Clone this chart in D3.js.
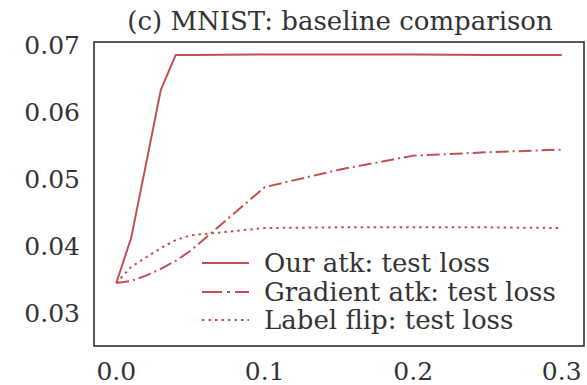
<!DOCTYPE html>
<html lang="en">
<head>
<meta charset="utf-8">
<title>MNIST baseline comparison</title>
<script src="https://d3js.org/d3.v7.min.js"></script>
<style>
  body { margin: 0; background: #fff; }
  text { font-family: "DejaVu Serif", serif; fill: #333; }
</style>
</head>
<body>
<script>
// fraction of poisoned points
var xs = [0, 0.01, 0.02, 0.03, 0.04, 0.05, 0.1, 0.15, 0.2, 0.25, 0.3];
// test loss per method
var ourAtk   = [0.0345, 0.0412, 0.0522, 0.0633, 0.0685, 0.0685, 0.0686, 0.0686, 0.0686, 0.0685, 0.0685];
var gradAtk  = [0.0345, 0.0348, 0.0356, 0.0366, 0.0378, 0.0393, 0.0488, 0.0514, 0.0535, 0.0540, 0.0544];
var labelFlip = [0.0345, 0.0369, 0.0383, 0.0397, 0.0409, 0.0416, 0.0427, 0.0428, 0.0428, 0.0428, 0.0427];
var seriesNames = ["Our atk: test loss", "Gradient atk: test loss", "Label flip: test loss"];
var xTicks = [0, 0.1, 0.2, 0.3];
var yTicks = [0.03, 0.04, 0.05, 0.06, 0.07];

var w = 587, h = 385;
var mLeft = 94, mRight = 584, mTop = 42, mBottom = 346;
var red = "#c44e52";

var svg = d3.select("body").append("svg").attr("width", w).attr("height", h);

var x = d3.scaleLinear().domain([-0.015, 0.315]).range([mLeft, mRight]);
var y = d3.scaleLinear().domain([0.0251, 0.07045]).range([mBottom, mTop]);

// title
svg.append("text")
  .attr("x", (mLeft + mRight) / 2 + 1).attr("y", 30)
  .attr("text-anchor", "middle")
  .style("font-size", "26px")
  .text("(c) MNIST: baseline comparison");

// y tick labels
svg.selectAll(".ytick").data(yTicks).enter().append("text")
  .attr("x", 80).attr("y", function(d) { return y(d); })
  .attr("dy", "0.36em")
  .attr("text-anchor", "end")
  .style("font-size", "25px")
  .text(function(d) { return d3.format(".2f")(d); });

// x tick labels
svg.selectAll(".xtick").data(xTicks).enter().append("text")
  .attr("x", function(d) { return x(d); }).attr("y", 380)
  .attr("text-anchor", "middle")
  .style("font-size", "25px")
  .text(function(d) { return d3.format(".1f")(d); });

var styles = [
  { vals: ourAtk, dash: null },
  { vals: gradAtk, dash: "13,4,2,4" },
  { vals: labelFlip, dash: "2.5,4" }
];

var line = d3.line()
  .x(function(d) { return x(d[0]); })
  .y(function(d) { return y(d[1]); });

styles.forEach(function(s) {
  svg.append("path")
    .datum(xs.map(function(v, i) { return [v, s.vals[i]]; }))
    .attr("d", line)
    .attr("fill", "none")
    .attr("stroke", red)
    .attr("stroke-width", 2)
    .attr("stroke-dasharray", s.dash);
});

// legend
var legY = [263, 292, 320];
styles.forEach(function(s, i) {
  svg.append("line")
    .attr("x1", 202).attr("x2", 249)
    .attr("y1", legY[i]).attr("y2", legY[i])
    .attr("stroke", red).attr("stroke-width", 2.2)
    .attr("stroke-dasharray", i == 1 ? "20,5,3,5" : s.dash);
  svg.append("text")
    .attr("x", 264).attr("y", legY[i])
    .attr("dy", "0.36em")
    .style("font-size", "26px")
    .text(seriesNames[i]);
});

// frame
svg.append("rect")
  .attr("x", mLeft).attr("y", mTop)
  .attr("width", mRight - mLeft).attr("height", mBottom - mTop)
  .attr("fill", "none")
  .attr("stroke", "#222")
  .attr("stroke-width", 1.5);
</script>
</body>
</html>
